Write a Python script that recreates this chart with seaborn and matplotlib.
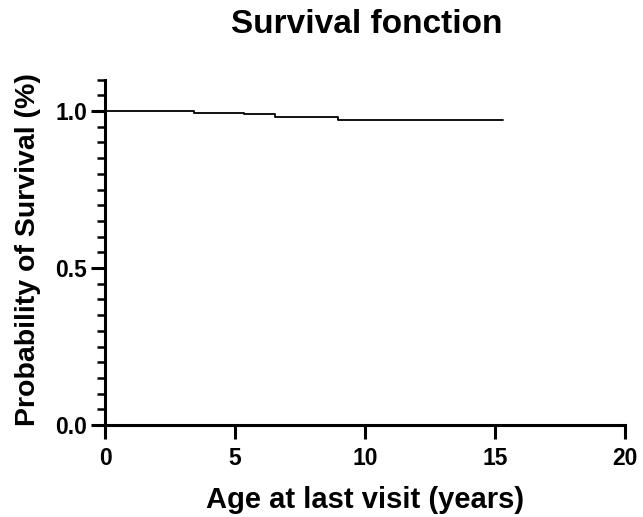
import matplotlib
matplotlib.use("Agg")
import matplotlib.pyplot as plt
import seaborn as sns
import pandas as pd
from matplotlib.ticker import MultipleLocator

# Kaplan-Meier steps
times = [0, 3.43, 5.36, 6.54, 8.96, 15.31]
survival = [1.0, 0.995, 0.990, 0.982, 0.970, 0.970]

x_ticks = [0, 5, 10, 15, 20]
y_ticks = [0.0, 0.5, 1.0]
y_tick_labels = ["0.0", "0.5", "1.0"]

df = pd.DataFrame({"time": times, "surv": survival})

sns.set_style("ticks")
plt.rcParams["font.family"] = ["Liberation Sans", "DejaVu Sans"]
plt.rcParams["text.color"] = "black"
plt.rcParams["xtick.color"] = "black"
plt.rcParams["ytick.color"] = "black"

fig = plt.figure(figsize=(6.43, 5.17), dpi=100)
ax = fig.add_axes([0.1633, 0.1779, 0.972 - 0.1633, 0.846 - 0.1779])

sns.lineplot(data=df, x="time", y="surv", drawstyle="steps-post",
             color="black", linewidth=1.3, ax=ax)

ax.set_xlim(0, 20)
ax.set_ylim(0, 1.1)
ax.spines["top"].set_visible(False)
ax.spines["right"].set_visible(False)
for s in ["left", "bottom"]:
    ax.spines[s].set_linewidth(2.2)
    ax.spines[s].set_color("black")
    ax.spines[s].set_capstyle("projecting")

ax.set_xticks(x_ticks)
ax.set_yticks(y_ticks)
ax.set_yticklabels(y_tick_labels)
ax.yaxis.set_minor_locator(MultipleLocator(0.05))
ax.tick_params(axis="both", which="major", length=10, width=2.2,
               labelsize=16.5, color="black", labelcolor="black")
ax.tick_params(axis="x", which="major", pad=6)
ax.tick_params(axis="y", which="major", pad=3)
ax.tick_params(axis="y", which="minor", length=6, width=1.8, color="black")
for lab in ax.get_xticklabels() + ax.get_yticklabels():
    lab.set_fontweight("bold")

ax.set_xlabel("")
ax.set_ylabel("")
fig.text(0.568, 1 - 508 / 517, "Age at last visit (years)", ha="center",
         va="baseline", fontsize=21, fontweight="bold", color="black")
fig.text(0.0435, 0.518, "Probability of Survival (%)", ha="center", va="center",
         rotation=90, fontsize=20.5, fontweight="bold", color="black")
fig.text(0.571, 1 - 33 / 517, "Survival fonction", ha="center", va="baseline",
         fontsize=24, fontweight="bold", color="black")

fig.savefig("out.png", dpi=100)
